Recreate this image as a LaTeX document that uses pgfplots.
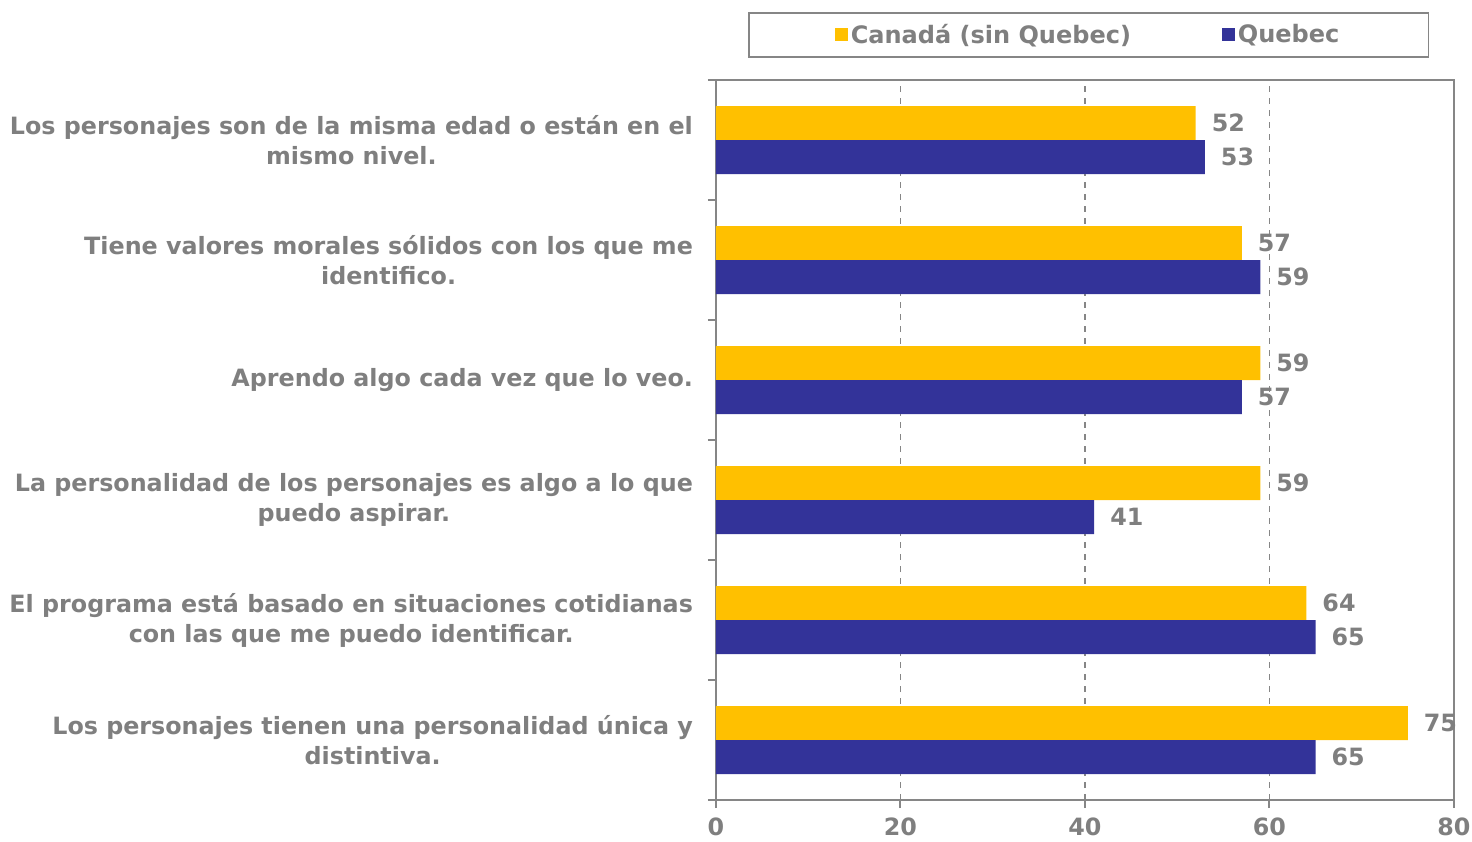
\documentclass[border=0pt]{standalone}
\usepackage{fontspec}
\setmainfont{DejaVu Sans}
\usepackage{pgfplots}
\pgfplotsset{compat=1.18}
\definecolor{cyel}{HTML}{FFC000}
\definecolor{cblu}{HTML}{333399}
\definecolor{tgray}{HTML}{7F7F7F}
\definecolor{agray}{HTML}{868686}
\begin{document}
\begin{tikzpicture}
\useasboundingbox (-358pt,-20.5pt) rectangle (378pt,400pt);
\begin{axis}[
 at={(0,0)}, anchor=south west,
 scale only axis, width=369pt, height=360pt,
 xbar, bar width=17pt,
 xmin=0, xmax=80, ymin=-0.5, ymax=5.5,
 xtick={0,20,...,80},
 ytick={0,...,5},
 yticklabels={{Los personajes tienen una personalidad única y\\distintiva.},
   {El programa está basado en situaciones cotidianas\\con las que me puedo identificar.},
   {La personalidad de los personajes es algo a lo que\\puedo aspirar.},
   {Aprendo algo cada vez que lo veo.},
   {Tiene valores morales sólidos con los que me\\identifico.},
   {Los personajes son de la misma edad o están en el\\mismo nivel.}},
 minor ytick={-0.5,0.5,...,5.5},
 tick pos=left,
 tick align=outside, major tick length=4pt, minor tick length=4pt,
 major y tick style={draw=none},
 xmajorgrids, grid style={dashed, agray, line width=0.6pt},
 axis line style={agray, line width=1pt},
 tick style={agray, line width=1pt},
 font=\fontsize{11.9}{15}\selectfont\bfseries,
 ticklabel style={tgray},
 yticklabel style={align=center, xshift=-4pt},
 xticklabel style={yshift=-1.5pt},
 /pgf/number format/assume math mode=true,
 nodes near coords,
 nodes near coords style={tgray, anchor=west, xshift=4.5pt, font=\fontsize{11.9}{15}\selectfont\bfseries},
 legend columns=2,
 legend style={at={(axis description cs:0.0434,1.0944)}, anchor=north west,
   draw=agray, line width=0.8pt, text=tgray, inner xsep=43pt, inner ysep=3.5pt,
   font=\fontsize{12}{15}\selectfont\bfseries,
   nodes={inner xsep=1.5pt},
   /tikz/every even column/.append style={column sep=44pt}},
 legend image code/.code={\fill[#1] (0pt,-3.25pt) rectangle (6.5pt,3.25pt);},
]
\addplot[fill=cyel, draw=none, bar shift=8.5pt] coordinates {(75,0) (64,1) (59,2) (59,3) (57,4) (52,5)};
\addplot[fill=cblu, draw=none, bar shift=-8.5pt] coordinates {(65,0) (65,1) (41,2) (57,3) (59,4) (53,5)};
\legend{Canadá (sin Quebec), Quebec}
\end{axis}
\end{tikzpicture}
\end{document}
